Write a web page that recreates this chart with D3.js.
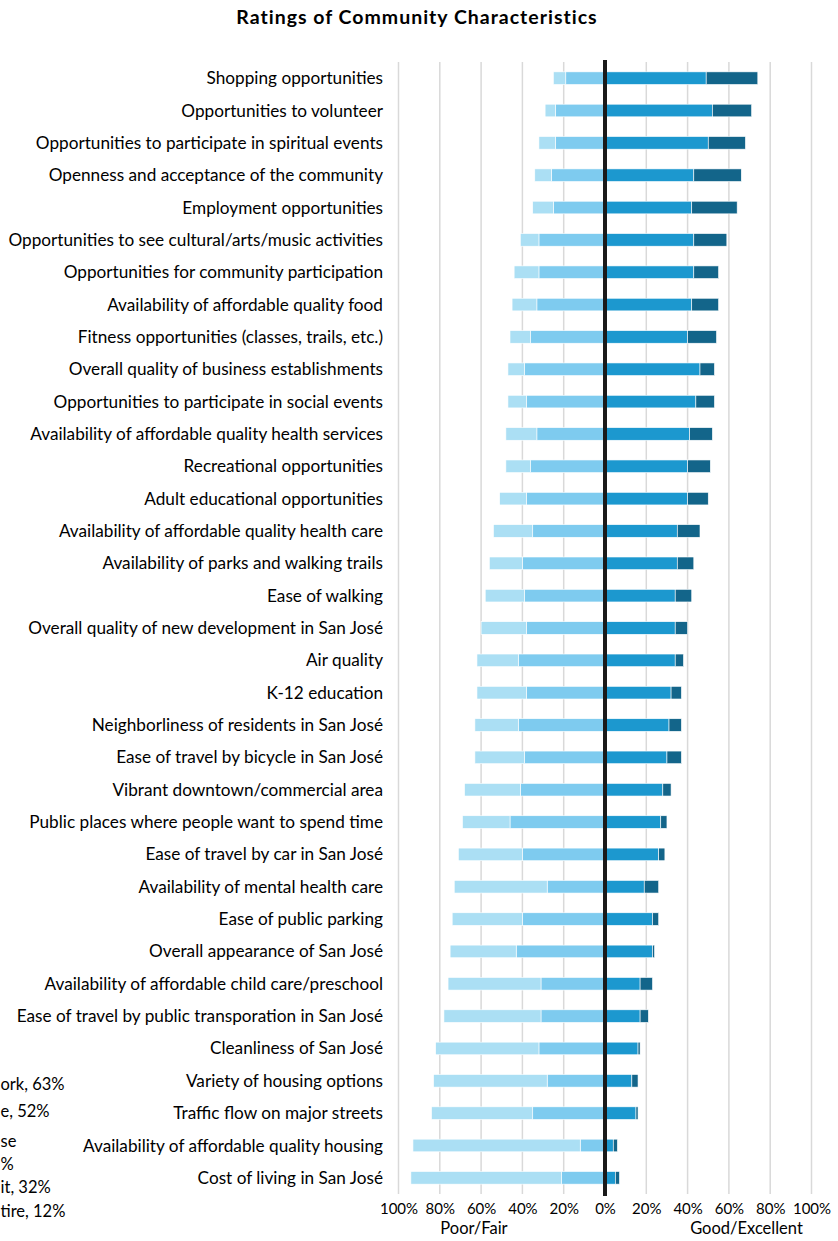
<!DOCTYPE html>
<html>
<head>
<meta charset="utf-8">
<script src="https://cdnjs.cloudflare.com/ajax/libs/d3/7.8.5/d3.min.js"></script>
<style>
  body { margin: 0; background: #fff; }
  svg text { font-family: Lato, "Open Sans", sans-serif; fill: #000; }
</style>
</head>
<body>
<div id="plot"></div>
<script>
var categories = [
  "Shopping opportunities",
  "Opportunities to volunteer",
  "Opportunities to participate in spiritual events",
  "Openness and acceptance of the community",
  "Employment opportunities",
  "Opportunities to see cultural/arts/music activities",
  "Opportunities for community participation",
  "Availability of affordable quality food",
  "Fitness opportunities (classes, trails, etc.)",
  "Overall quality of business establishments",
  "Opportunities to participate in social events",
  "Availability of affordable quality health services",
  "Recreational opportunities",
  "Adult educational opportunities",
  "Availability of affordable quality health care",
  "Availability of parks and walking trails",
  "Ease of walking",
  "Overall quality of new development in San José",
  "Air quality",
  "K-12 education",
  "Neighborliness of residents in San José",
  "Ease of travel by bicycle in San José",
  "Vibrant downtown/commercial area",
  "Public places where people want to spend time",
  "Ease of travel by car in San José",
  "Availability of mental health care",
  "Ease of public parking",
  "Overall appearance of San José",
  "Availability of affordable child care/preschool",
  "Ease of travel by public transporation in San José",
  "Cleanliness of San José",
  "Variety of housing options",
  "Traffic flow on major streets",
  "Availability of affordable quality housing",
  "Cost of living in San José"
];

// percentages
var poor      = [6, 5, 8, 8, 10, 9, 12, 12, 10, 8, 9, 15, 12, 13, 19, 16, 19, 22, 20, 24, 21, 24, 27, 23, 31, 45, 34, 32, 45, 47, 50, 55, 49, 81, 73];
var fair      = [19, 24, 24, 26, 25, 32, 32, 33, 36, 39, 38, 33, 36, 38, 35, 40, 39, 38, 42, 38, 42, 39, 41, 46, 40, 28, 40, 43, 31, 31, 32, 28, 35, 12, 21];
var good      = [49, 52, 50, 43, 42, 43, 43, 42, 40, 46, 44, 41, 40, 40, 35, 35, 34, 34, 34, 32, 31, 30, 28, 27, 26, 19, 23, 23, 17, 17, 16, 13, 15, 4, 5];
var excellent = [25, 19, 18, 23, 22, 16, 12, 13, 14, 7, 9, 11, 11, 10, 11, 8, 8, 6, 4, 5, 6, 7, 4, 3, 3, 7, 3, 1, 6, 4, 1, 3, 1, 2, 2];

var tickValues = [-100, -80, -60, -40, -20, 0, 20, 40, 60, 80, 100];

// cut-off labels of a neighbouring chart at the left edge
var fragments = ["ork, 63%", "e, 52%", "se", "%", "it, 32%", "tire, 12%"];
var fragmentY = [1090, 1117, 1147, 1170, 1193, 1217];

var colors = {poor: "#abdff4", fair: "#7ecbef", good: "#1c98cf", excellent: "#13658a"};

var outerWidth = 838, outerHeight = 1241;
var plot = {top: 62, bottom: 1194, left: 398.5, right: 811.5};

var svg = d3.select("#plot").append("svg")
    .attr("width", outerWidth)
    .attr("height", outerHeight);

var Xscale = d3.scaleLinear()
    .domain([-100, 100])
    .range([plot.left, plot.right]);

var Yscale = d3.scaleBand()
    .domain(categories)
    .range([plot.top, plot.bottom])
    .paddingInner(0.61)
    .paddingOuter(0.305);

// Title
svg.append("text")
    .attr("x", 417)
    .attr("y", 24)
    .attr("text-anchor", "middle")
    .style("font-size", "19.5px")
    .style("font-weight", "bold")
    .style("letter-spacing", "1px")
    .text("Ratings of Community Characteristics");

// Gridlines
svg.append("g").selectAll("line")
    .data(tickValues.filter(function(d) { return d != 0; }))
    .enter().append("line")
    .attr("x1", function(d) { return Xscale(d); })
    .attr("x2", function(d) { return Xscale(d); })
    .attr("y1", plot.top)
    .attr("y2", plot.bottom)
    .attr("stroke", "#d9d9d9")
    .attr("stroke-width", 1.5);

// stack the segments outward from zero
var rows = categories.map(function(c, i) {
    return [
        {cat: c, x0: -fair[i], x1: 0, color: colors.fair},
        {cat: c, x0: -fair[i] - poor[i], x1: -fair[i], color: colors.poor},
        {cat: c, x0: 0, x1: good[i], color: colors.good},
        {cat: c, x0: good[i], x1: good[i] + excellent[i], color: colors.excellent}
    ];
});

svg.append("g").selectAll("rect")
    .data(d3.merge(rows))
    .enter().append("rect")
    .attr("x", function(d) { return Xscale(d.x0); })
    .attr("width", function(d) { return Xscale(d.x1) - Xscale(d.x0); })
    .attr("y", function(d) { return Yscale(d.cat); })
    .attr("height", Yscale.bandwidth())
    .attr("fill", function(d) { return d.color; })
    .attr("stroke", "#fff")
    .attr("stroke-width", 0.6);

// Zero line
svg.append("line")
    .attr("x1", Xscale(0))
    .attr("x2", Xscale(0))
    .attr("y1", plot.top - 2)
    .attr("y2", plot.bottom + 2)
    .attr("stroke", "#1a1a1a")
    .attr("stroke-width", 4);

// Category labels
svg.append("g").selectAll("text")
    .data(categories)
    .enter().append("text")
    .attr("x", 383)
    .attr("y", function(d) { return Yscale(d) + Yscale.bandwidth() / 2; })
    .attr("dy", "0.35em")
    .attr("text-anchor", "end")
    .style("font-size", "17.2px")
    .text(function(d) { return d; });

// X-axis tick labels
var axisX = svg.append("g")
    .attr("transform", "translate(0," + 1203 + ")")
    .call(d3.axisBottom(Xscale)
        .tickValues(tickValues)
        .tickSize(0)
        .tickFormat(function(d) { return Math.abs(d) + "%"; }));
axisX.select(".domain").remove();
axisX.selectAll("text")
    .attr("y", 0)
    .attr("dy", "0.71em")
    .style("font-size", "15px")
    .style("font-family", "Lato, sans-serif")
    .attr("fill", "#000");

// Axis titles
svg.append("text")
    .attr("x", 474)
    .attr("y", 1234)
    .attr("text-anchor", "middle")
    .style("font-size", "16.5px")
    .text("Poor/Fair");
svg.append("text")
    .attr("x", 746.5)
    .attr("y", 1234)
    .attr("text-anchor", "middle")
    .style("font-size", "16.5px")
    .text("Good/Excellent");

// Leftover text at the left edge
svg.append("g").selectAll("text")
    .data(fragments)
    .enter().append("text")
    .attr("x", 0.5)
    .attr("y", function(d, i) { return fragmentY[i]; })
    .style("font-size", "16.5px")
    .text(function(d) { return d; });
</script>
</body>
</html>
